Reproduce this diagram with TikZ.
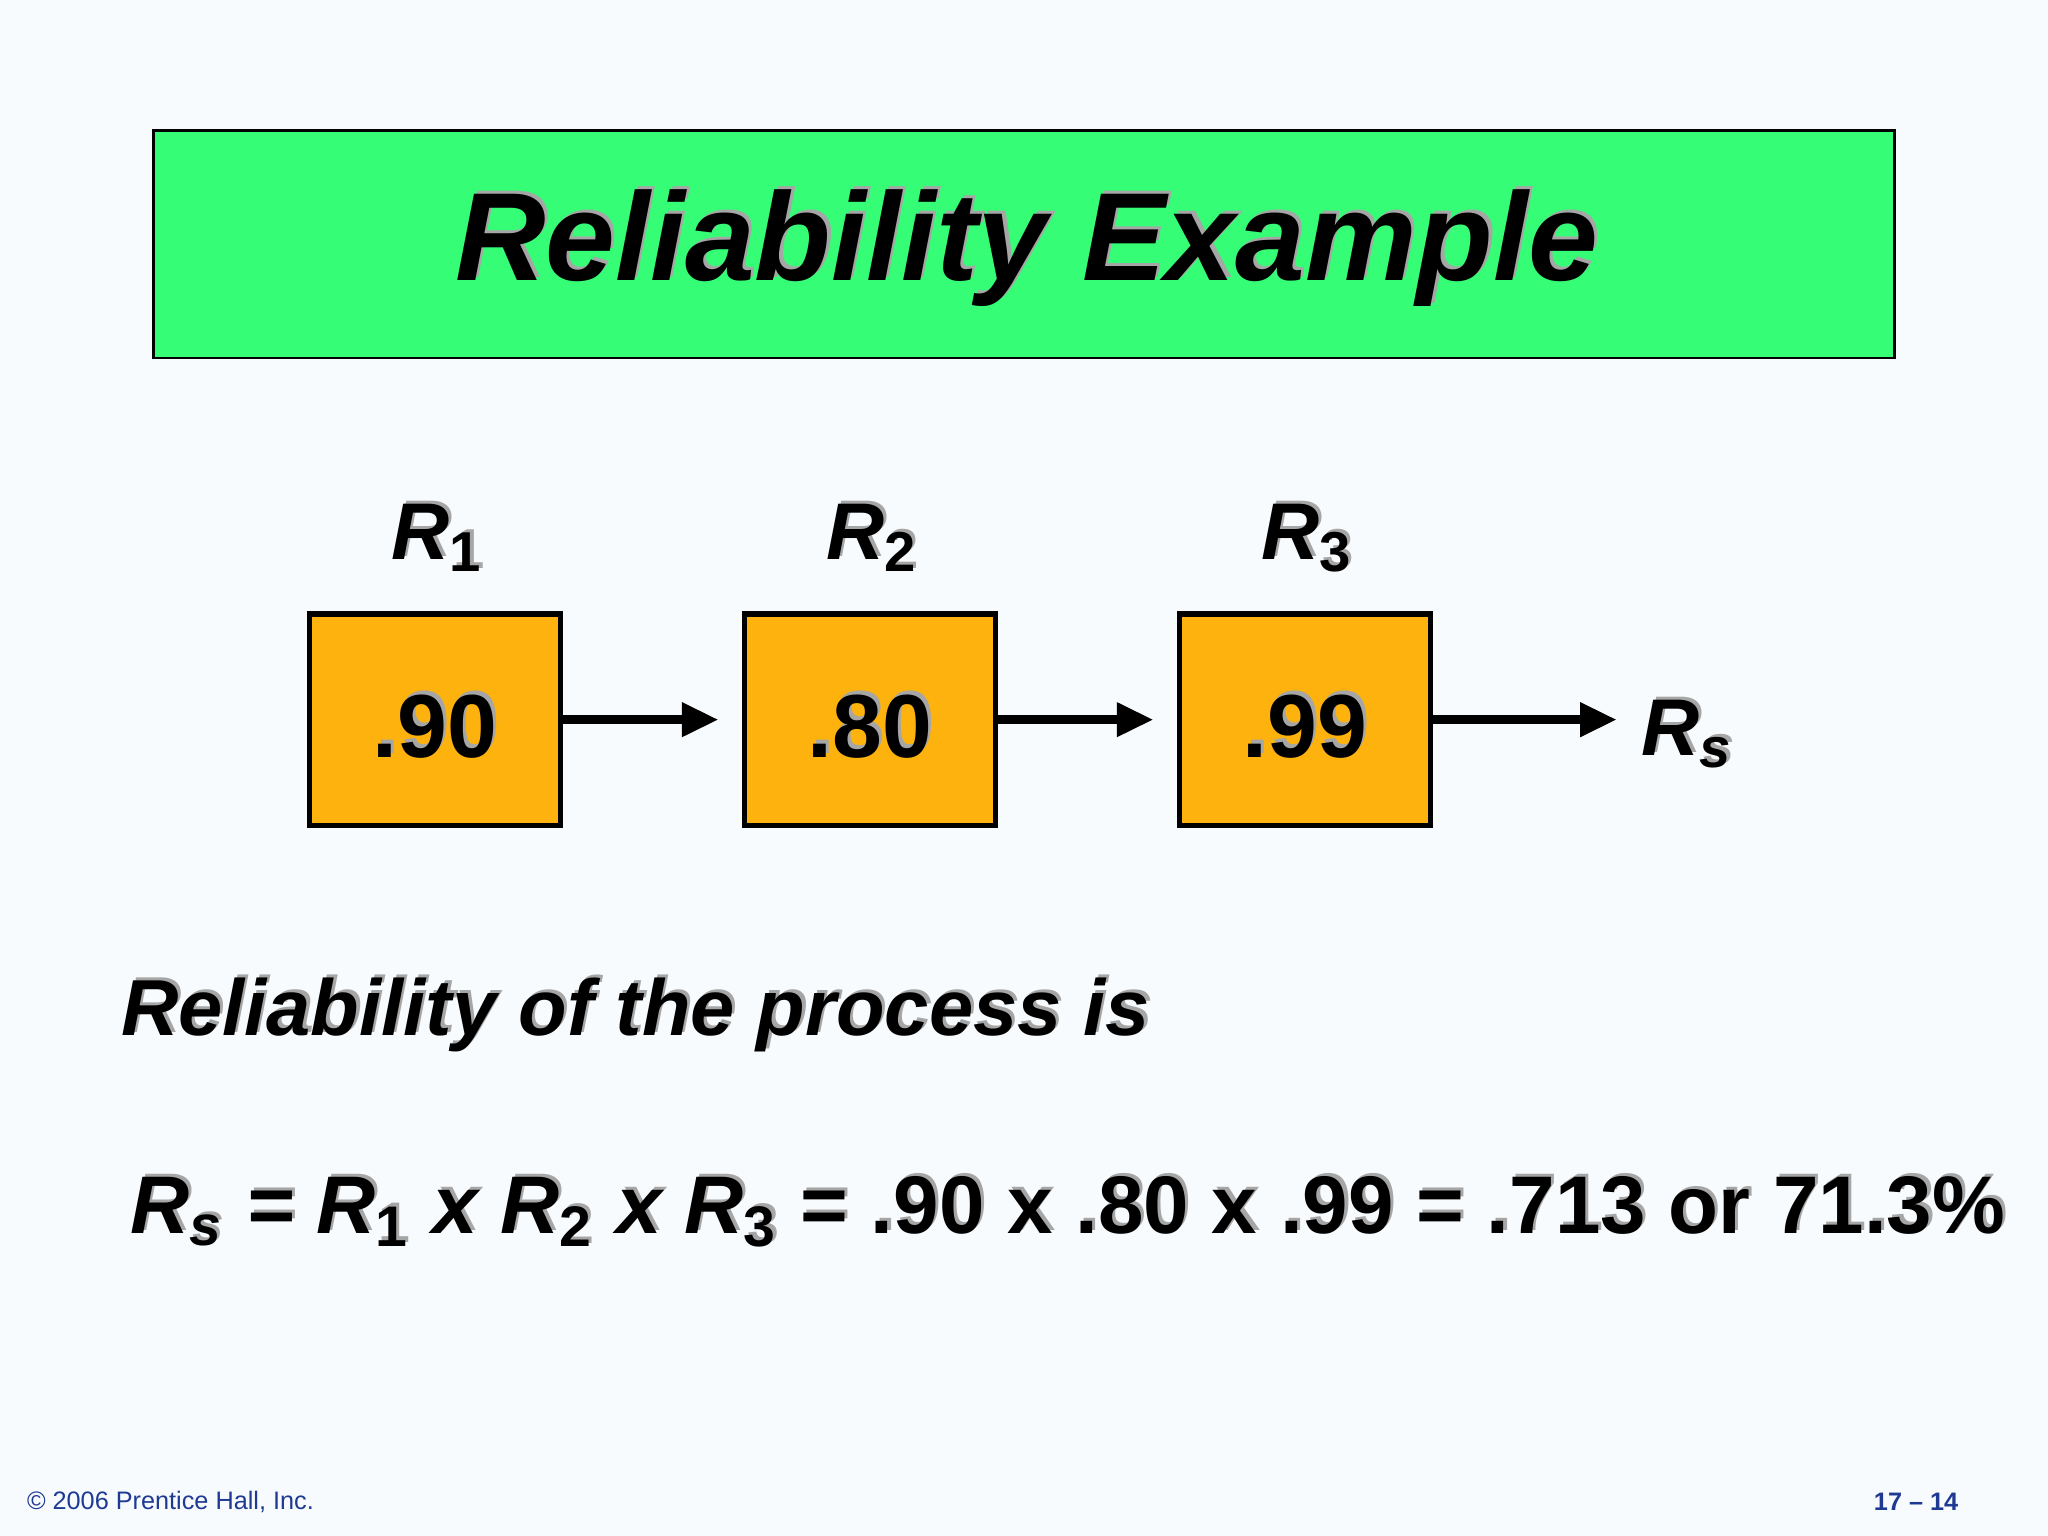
\documentclass[tikz,border=0pt]{standalone}
\usepackage{fontspec}
\setmainfont{Liberation Sans}
\usetikzlibrary{arrows.meta}
\definecolor{bg}{HTML}{F7FBFD}
\definecolor{titlegreen}{HTML}{35FD76}
\definecolor{boxorange}{HTML}{FDB20E}
\definecolor{foot}{HTML}{1F3A93}
\newcommand{\sub}[1]{\textsubscript{\upshape #1}}
\newcommand{\subi}[1]{\textsubscript{#1}}
\newcommand{\shtxt}[4]{%
  \node[shadow,anchor=#4] at ([shift={(2.5,-2.5)}]#2) {#3};
  \node[txt,anchor=#4] (#1) at (#2) {#3};}
\begin{document}
\begin{tikzpicture}[x=0.01cm,y=-0.01cm,
  txt/.style={inner sep=0pt,font=\bfseries\itshape,text=black},
  shadow/.style={inner sep=0pt,font=\bfseries\itshape,text=black!35},
  block/.style={draw=black,line width=1.2pt,fill=boxorange,minimum width=1.92cm,minimum height=1.62cm,inner sep=0pt},
  arr/.style={line width=2pt,-{Triangle[length=8pt,width=7pt]}}]
\fill[bg] (0,0) rectangle (1568,1176);
\useasboundingbox (0,0) rectangle (1568,1176);
\node[draw=black,line width=0.6pt,fill=titlegreen,minimum width=13.32cm,minimum height=1.74cm,inner sep=0pt] (title) at (784,187) {};
\begingroup\fontsize{27.3}{32}\selectfont
\shtxt{tt}{786,190}{Reliability Example}{center}
\endgroup
\node[block] (b1) at (333,551) {};
\node[block] (b2) at (666,551) {};
\node[block] (b3) at (999,551) {};
\begingroup\fontsize{19.5}{24}\selectfont
\shtxt{n1}{333,556}{\upshape .90}{center}
\shtxt{n2}{666,556}{\upshape .80}{center}
\shtxt{n3}{999,556}{\upshape .99}{center}
\endgroup
\begingroup\fontsize{17.5}{22}\selectfont
\shtxt{r1}{335,412}{R\sub{1}}{center}
\shtxt{r2}{668,412}{R\sub{2}}{center}
\shtxt{r3}{1001,412}{R\sub{3}}{center}
\shtxt{rs}{1292,562}{R\subi{s}}{center}
\endgroup
\coordinate (end) at (1238,551);
\draw[arr] (b1.east) -- ([xshift=-5]b2.west);
\draw[arr] (b2.east) -- ([xshift=-5]b3.west);
\draw[arr] (b3.east) -- (end);
\begingroup\fontsize{17.3}{22}\selectfont
\shtxt{proc}{92,777}{Reliability of the process is}{west}
\endgroup
\begingroup\fontsize{17.8}{22}\selectfont
\shtxt{form}{99,928}{R\subi{s} = R\sub{1} x R\sub{2} x R\sub{3} \upshape= .90 x .80 x .99 = .713 or 71.3\%}{west}
\endgroup
\node[anchor=west,inner sep=0pt,font=\fontsize{5.5}{6.5}\selectfont,text=foot] (copy) at (20,1150) {© 2006 Prentice Hall, Inc.};
\node[anchor=east,inner sep=0pt,font=\fontsize{5.5}{6.5}\selectfont\bfseries,text=foot] (page) at (1500,1150) {17 – 14};
\end{tikzpicture}
\end{document}
